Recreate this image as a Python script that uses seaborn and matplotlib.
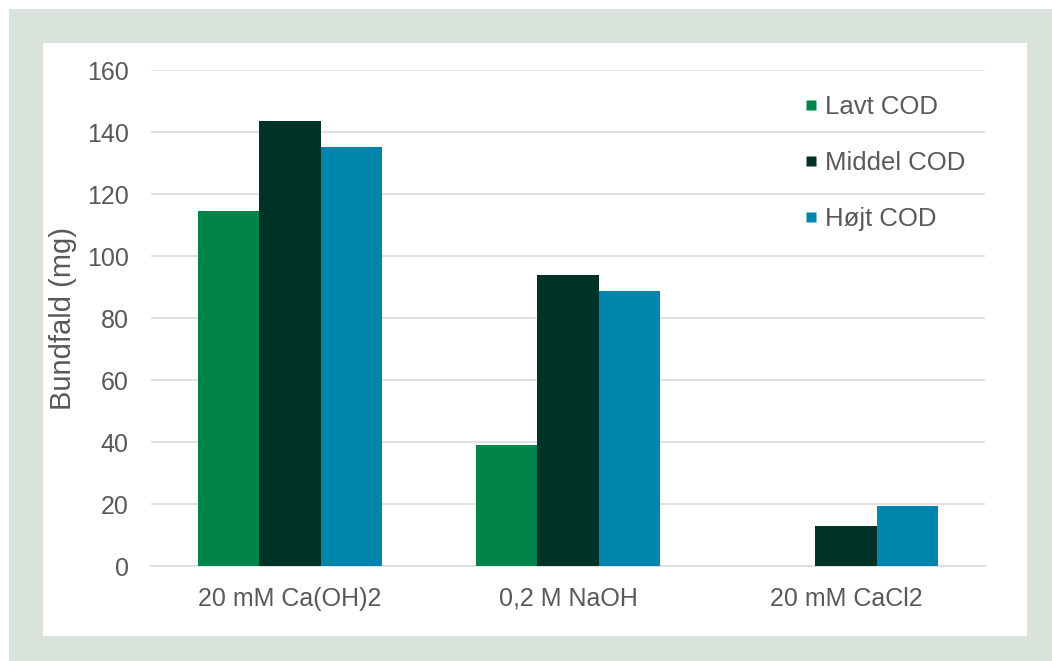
import matplotlib
matplotlib.use("Agg")
import matplotlib.pyplot as plt
from matplotlib.patches import Rectangle
from matplotlib.lines import Line2D
import pandas as pd
import seaborn as sns

# Precipitate per treatment and COD level
treatments = ["20 mM Ca(OH)2", "0,2 M NaOH", "20 mM CaCl2"]
series = ["Lavt COD", "Middel COD", "Højt COD"]
lavt = [114.5, 38.9, 0.0]
middel = [143.5, 93.8, 13.0]
hoejt = [135.1, 88.6, 19.5]
yticks = [0, 20, 40, 60, 80, 100, 120, 140, 160]
colors = ["#00844A", "#003327", "#0086AD"]

df = pd.DataFrame({
    "Behandling": treatments * 3,
    "COD": [s for s in series for _ in treatments],
    "Bundfald": lavt + middel + hoejt,
})

sns.set_theme(style="white")
plt.rcParams["font.family"] = ["Liberation Sans", "DejaVu Sans"]
text_color = "#595959"
grid_color = "#D9D9D9"

W, H = 1052, 661
fig = plt.figure(figsize=(W / 100, H / 100), dpi=100, facecolor="white")

# Framed panel: light green border around a white card
fig.patches.append(Rectangle((9 / W, 0), 1 - 9 / W, 1 - 9 / H, transform=fig.transFigure,
                             facecolor="#D9E3DC", edgecolor="none", zorder=-2))
fig.patches.append(Rectangle((43 / W, 1 - 636 / H), (1027 - 43) / W, (636 - 43) / H,
                             transform=fig.transFigure, facecolor="white",
                             edgecolor="none", zorder=-1))

left, right, top, bottom = 151, 985, 70, 566
ax = fig.add_axes([left / W, 1 - bottom / H, (right - left) / W, (bottom - top) / H])
ax.set_facecolor("none")

sns.barplot(data=df, x="Behandling", y="Bundfald", hue="COD", hue_order=series,
            palette=colors, width=0.665, gap=0, saturation=1, ax=ax,
            edgecolor="none", legend=False, zorder=3)

ax.set_ylim(0, 160)
ax.set_yticks(yticks)
ax.set_xlim(-0.5, 2.5)
ax.yaxis.grid(True, color=grid_color, linewidth=1.1, zorder=0)
ax.set_axisbelow(True)
for side in ["top", "right", "left"]:
    ax.spines[side].set_visible(False)
ax.spines["bottom"].set_color(grid_color)
ax.spines["bottom"].set_linewidth(1.1)
ax.tick_params(axis="both", length=0, labelsize=18, labelcolor=text_color)
ax.tick_params(axis="y", pad=16)
ax.tick_params(axis="x", pad=15)
ax.set_xlabel("")
ax.set_ylabel("Bundfald (mg)", fontsize=21, color=text_color)
ax.yaxis.set_label_coords((77 - left) / (right - left), 0.5)

handles = [Line2D([0], [0], marker="s", linestyle="none", markersize=7,
                  markerfacecolor=c, markeredgecolor="none") for c in colors]
leg = fig.legend(handles, series, loc="upper left",
                 bbox_to_anchor=(790 / W, 1 - 82 / H), frameon=False,
                 fontsize=18.5, labelcolor=text_color, handlelength=0.6,
                 handletextpad=0.25, labelspacing=1.25, borderpad=0)

fig.savefig("out.png", dpi=100, facecolor="white")
